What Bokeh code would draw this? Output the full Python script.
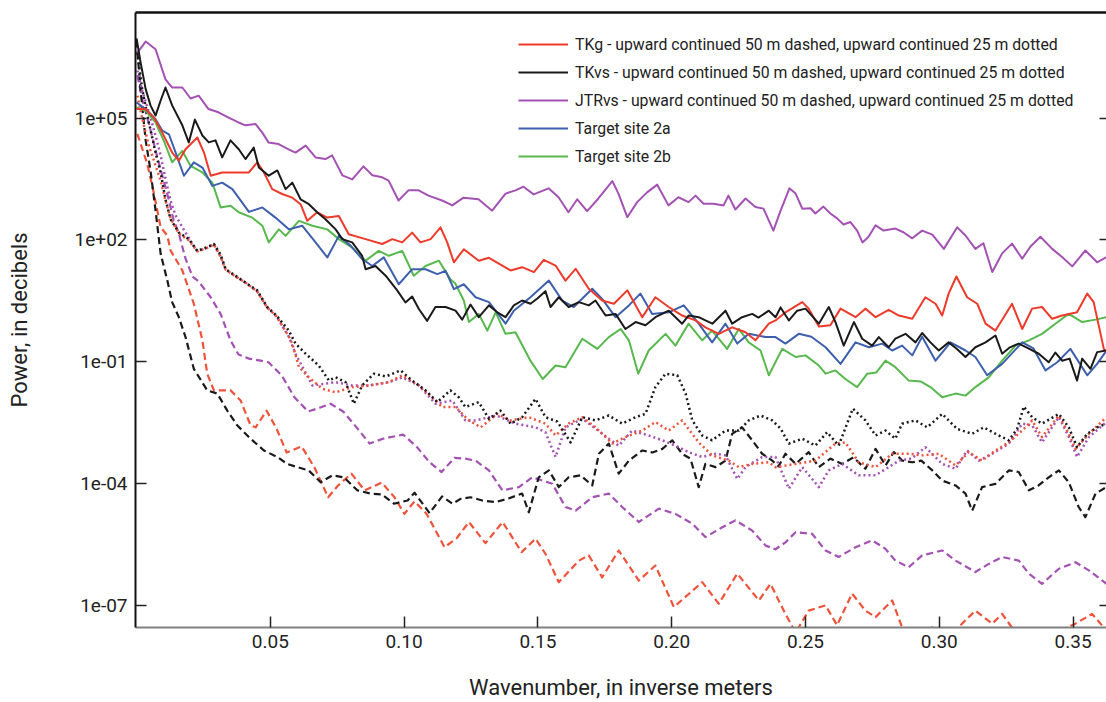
from bokeh.plotting import figure
from bokeh.models import (Range1d, FixedTicker, PrintfTickFormatter, LinearAxis,
                          LogAxis, Legend, LegendItem)
from bokeh.embed import file_html
from bokeh.resources import INLINE

# ---- data: (wavenumber in 1/m, log10 of power) ----
tkg_solid = [(0, 5.22), (0.0034, 5.22), (0.0065, 5.01), (0.0096, 4.64), (0.0133, 4.15), (0.0158, 3.95),
    (0.0183, 4.23), (0.0227, 4.52), (0.0252, 4.15), (0.0277, 3.58), (0.0320, 3.66), (0.0370, 3.66),
    (0.0420, 3.66), (0.0451, 3.91), (0.0476, 3.66), (0.0507, 3.25), (0.0544, 3.13), (0.0582, 3.04),
    (0.0613, 2.88), (0.0638, 2.47), (0.0675, 2.68), (0.0713, 2.55), (0.0756, 2.59), (0.0793, 2.14),
    (0.0856, 2.02), (0.0918, 1.90), (0.0956, 2.02), (0.0993, 1.94), (0.1030, 2.18), (0.1061, 1.94),
    (0.1099, 2.02), (0.1136, 2.31), (0.1161, 1.94), (0.1186, 1.45), (0.1223, 1.77), (0.1279, 1.49),
    (0.1317, 1.56), (0.1367, 1.37), (0.1398, 1.25), (0.1441, 1.33), (0.1485, 1.21), (0.1522, 1.51),
    (0.1566, 1.37), (0.1603, 1.00), (0.1641, 1.29), (0.1690, 0.80), (0.1740, 0.51), (0.1784, 0.43),
    (0.1834, 0.76), (0.1890, 0.10), (0.1939, 0.59), (0.1989, 0.35), (0.2039, 0.14), (0.2089, 0.02),
    (0.2126, -0.15), (0.2176, -0.31), (0.2226, -0.15), (0.2276, -0.27), (0.2313, -0.47), (0.2363, -0.06),
    (0.2388, 0.02), (0.2425, 0.22), (0.2488, 0.47), (0.2512, 0.31), (0.2550, -0.13), (0.2593, -0.10),
    (0.2631, 0.31), (0.2687, 0.10), (0.2724, 0.31), (0.2762, 0.10), (0.2811, 0.28), (0.2849, 0.14),
    (0.2899, 0.06), (0.2948, 0.59), (0.2986, 0.43), (0.3011, 0.14), (0.3035, 0.68), (0.3064, 1.10),
    (0.3104, 0.59), (0.3142, 0.43), (0.3173, -0.06), (0.3210, -0.23), (0.3241, 0.10), (0.3272, 0.43),
    (0.3310, -0.19), (0.3347, 0.31), (0.3384, 0.35), (0.3422, 0.06), (0.3459, 0.14), (0.3515, 0.22),
    (0.3553, 0.68), (0.3577, 0.47), (0.3615, -0.68), (0.3625, -0.76)]

tkvs_solid = [(0, 6.96), (0.0015, 6.37), (0.0034, 5.71), (0.0052, 5.31), (0.0071, 5.06), (0.0090, 5.43),
    (0.0108, 5.75), (0.0133, 5.31), (0.0171, 4.82), (0.0195, 4.40), (0.0218, 4.96), (0.0246, 4.57),
    (0.0270, 4.40), (0.0295, 4.45), (0.0320, 4.03), (0.0351, 4.45), (0.0382, 4.23), (0.0407, 3.99),
    (0.0438, 4.27), (0.0457, 3.78), (0.0494, 3.58), (0.0526, 3.71), (0.0557, 3.25), (0.0582, 3.41),
    (0.0613, 3.00), (0.0644, 2.88), (0.0675, 2.68), (0.0706, 2.51), (0.0744, 2.26), (0.0769, 2.02),
    (0.0806, 1.94), (0.0843, 1.61), (0.0856, 1.28), (0.0893, 1.36), (0.0931, 1.12), (0.0974, 0.76),
    (0.1005, 0.46), (0.1030, 0.61), (0.1055, 0.30), (0.1086, 0.01), (0.1117, 0.35), (0.1155, 0.35),
    (0.1192, 0.26), (0.1217, 0.04), (0.1248, 0.41), (0.1279, 0.10), (0.1317, 0.39), (0.1348, 0.22),
    (0.1379, 0.10), (0.1410, 0.39), (0.1441, 0.51), (0.1472, 0.43), (0.1498, 0.56), (0.1528, 0.74),
    (0.1547, 0.35), (0.1578, 0.59), (0.1615, 0.35), (0.1653, 0.47), (0.1690, 0.39), (0.1715, 0.51),
    (0.1753, 0.14), (0.1790, 0.18), (0.1827, -0.19), (0.1865, -0.02), (0.1902, -0.10), (0.1939, 0.10),
    (0.1989, 0.26), (0.2039, -0.06), (0.2063, 0.14), (0.2101, 0.10), (0.2126, 0.02), (0.2152, -0.06),
    (0.2201, 0.26), (0.2226, -0.06), (0.2263, 0.10), (0.2301, 0.18), (0.2324, 0.09), (0.2363, 0.26),
    (0.2388, 0.10), (0.2407, 0.34), (0.2438, 0.02), (0.2469, 0.26), (0.2500, 0.31), (0.2550, -0.06),
    (0.2587, 0.35), (0.2612, -0.02), (0.2643, -0.60), (0.2681, -0.02), (0.2712, -0.43), (0.2749, -0.60),
    (0.2774, -0.39), (0.2811, -0.64), (0.2836, -0.43), (0.2874, -0.31), (0.2911, -0.52), (0.2936, -0.29),
    (0.2967, -0.52), (0.2998, -0.72), (0.3035, -0.52), (0.3064, -0.67), (0.3098, -0.88), (0.3135, -0.64),
    (0.3173, -0.52), (0.3210, -0.35), (0.3235, -0.80), (0.3262, -0.65), (0.3297, -0.55), (0.3333, -0.67),
    (0.3372, -0.80), (0.3409, -1.01), (0.3434, -0.77), (0.3459, -0.97), (0.3487, -0.92), (0.3515, -1.46),
    (0.3534, -0.92), (0.3565, -1.17), (0.3590, -0.76), (0.3625, -0.72)]

jtrvs_solid = [(0.0003, 6.61), (0.0034, 6.88), (0.0071, 6.69), (0.0108, 5.95), (0.0133, 5.75), (0.0171, 5.75),
    (0.0202, 5.48), (0.0232, 5.55), (0.0269, 5.22), (0.0306, 5.14), (0.0344, 5.01), (0.0381, 4.89),
    (0.0407, 4.82), (0.0445, 4.85), (0.0470, 4.64), (0.0493, 4.40), (0.0531, 4.36), (0.0568, 4.23),
    (0.0594, 4.15), (0.0632, 4.32), (0.0669, 4.03), (0.0706, 3.99), (0.0731, 4.08), (0.0769, 3.59),
    (0.0806, 3.49), (0.0848, 3.81), (0.0881, 3.59), (0.0918, 3.54), (0.0942, 3.46), (0.0979, 2.97),
    (0.1016, 3.22), (0.1054, 3.22), (0.1091, 3.09), (0.1142, 2.97), (0.1180, 2.85), (0.1222, 3.04),
    (0.1278, 3.00), (0.1329, 2.72), (0.1379, 3.14), (0.1416, 3.22), (0.1446, 3.31), (0.1484, 3.12),
    (0.1540, 3.27), (0.1577, 3.05), (0.1614, 2.68), (0.1647, 3.00), (0.1684, 2.71), (0.1726, 3.02),
    (0.1778, 3.45), (0.1801, 3.14), (0.1834, 2.56), (0.1871, 2.93), (0.1908, 3.17), (0.1946, 3.36),
    (0.1988, 2.85), (0.2025, 3.05), (0.2063, 2.93), (0.2089, 3.09), (0.2119, 2.89), (0.2156, 2.89),
    (0.2194, 2.85), (0.2212, 3.09), (0.2238, 2.75), (0.2276, 3.02), (0.2313, 2.81), (0.2343, 2.77),
    (0.2380, 2.23), (0.2407, 2.72), (0.2440, 3.27), (0.2463, 3.14), (0.2488, 2.77), (0.2519, 2.78),
    (0.2537, 2.65), (0.2567, 2.82), (0.2593, 2.65), (0.2618, 2.53), (0.2642, 2.38), (0.2668, 2.44),
    (0.2693, 2.23), (0.2713, 1.94), (0.2735, 2.07), (0.2762, 2.36), (0.2792, 2.23), (0.2836, 2.28),
    (0.2866, 2.19), (0.2899, 2.04), (0.2936, 2.23), (0.2974, 2.13), (0.3017, 1.78), (0.3067, 2.31),
    (0.3098, 2.11), (0.3135, 1.78), (0.3165, 1.92), (0.3198, 1.21), (0.3235, 1.67), (0.3272, 1.91),
    (0.3310, 1.54), (0.3341, 1.84), (0.3378, 2.08), (0.3422, 1.78), (0.3459, 1.58), (0.3497, 1.35),
    (0.3546, 1.74), (0.3590, 1.45), (0.3625, 1.58)]

site2a = [(0, 5.38), (0.0034, 5.22), (0.0071, 4.97), (0.0096, 4.69), (0.0121, 4.60), (0.0146, 4.15),
    (0.0177, 3.58), (0.0214, 3.91), (0.0246, 3.78), (0.0283, 3.33), (0.0320, 3.41), (0.0358, 3.25),
    (0.0420, 2.69), (0.0470, 2.80), (0.0519, 2.55), (0.0569, 2.26), (0.0619, 2.35), (0.0669, 1.94),
    (0.0713, 1.57), (0.0756, 2.10), (0.0800, 1.86), (0.0843, 1.53), (0.0881, 1.36), (0.0924, 1.57),
    (0.0980, 0.91), (0.1030, 1.28), (0.1080, 1.28), (0.1124, 1.16), (0.1155, 1.24), (0.1186, 0.79),
    (0.1223, 0.91), (0.1267, 0.59), (0.1317, 0.47), (0.1379, -0.06), (0.1410, 0.26), (0.1472, 0.59),
    (0.1541, 1.00), (0.1591, 0.51), (0.1634, 0.35), (0.1703, 0.80), (0.1740, 0.55), (0.1790, 0.10),
    (0.1840, 0.39), (0.1883, 0.68), (0.1927, 0.18), (0.1989, 0.22), (0.2045, 0.39), (0.2101, -0.06),
    (0.2151, -0.52), (0.2201, -0.06), (0.2245, -0.55), (0.2288, -0.31), (0.2351, -0.39), (0.2388, -0.39),
    (0.2425, -0.55), (0.2475, -0.31), (0.2522, -0.38), (0.2575, -0.64), (0.2631, -1.05), (0.2687, -0.52),
    (0.2737, -0.64), (0.2787, -0.55), (0.2824, -0.72), (0.2861, -0.60), (0.2899, -0.84), (0.2936, -0.38),
    (0.2986, -0.97), (0.3042, -0.52), (0.3098, -0.72), (0.3135, -0.88), (0.3179, -1.33), (0.3235, -1.05),
    (0.3310, -0.52), (0.3352, -0.67), (0.3397, -1.21), (0.3441, -1.01), (0.3490, -0.68), (0.3553, -1.33),
    (0.3590, -1.05), (0.3625, -0.72)]

site2b = [(0, 5.26), (0.0034, 5.18), (0.0071, 4.89), (0.0102, 4.44), (0.0133, 3.91), (0.0171, 4.19),
    (0.0202, 3.82), (0.0246, 3.66), (0.0283, 3.41), (0.0314, 2.80), (0.0351, 2.84), (0.0382, 2.68),
    (0.0432, 2.55), (0.0470, 2.35), (0.0494, 1.94), (0.0532, 2.26), (0.0557, 2.10), (0.0607, 2.47),
    (0.0657, 2.35), (0.0713, 2.26), (0.0756, 2.02), (0.0806, 1.81), (0.0856, 1.49), (0.0905, 1.73),
    (0.0943, 1.61), (0.0993, 1.73), (0.1036, 1.12), (0.1080, 1.36), (0.1130, 1.49), (0.1173, 1.03),
    (0.1192, 0.92), (0.1223, 0.51), (0.1242, -0.02), (0.1279, 0.18), (0.1311, -0.23), (0.1342, 0.22),
    (0.1379, -0.31), (0.1416, -0.27), (0.1472, -0.97), (0.1518, -1.42), (0.1566, -1.09), (0.1603, -1.13),
    (0.1666, -0.43), (0.1722, -0.68), (0.1765, -0.39), (0.1809, -0.19), (0.1840, -0.47), (0.1875, -1.29),
    (0.1914, -0.72), (0.1977, -0.31), (0.2014, -0.60), (0.2063, -0.06), (0.2114, -0.47), (0.2151, -0.23),
    (0.2207, -0.68), (0.2251, -0.19), (0.2288, -0.52), (0.2332, -0.72), (0.2363, -1.33), (0.2413, -0.68),
    (0.2463, -0.88), (0.2500, -0.84), (0.2550, -1.09), (0.2575, -1.29), (0.2612, -1.21), (0.2649, -1.42),
    (0.2693, -1.62), (0.2731, -1.29), (0.2765, -1.26), (0.2799, -0.97), (0.2836, -1.13), (0.2886, -1.46),
    (0.2930, -1.48), (0.2967, -1.62), (0.3011, -1.87), (0.3061, -1.78), (0.3098, -1.83), (0.3135, -1.62),
    (0.3185, -1.38), (0.3235, -0.97), (0.3285, -0.60), (0.3335, -0.47), (0.3384, -0.31), (0.3434, -0.06),
    (0.3484, 0.18), (0.3534, -0.02), (0.3584, 0.04), (0.3625, 0.10)]

tkvs_25m = [(0.0003, 6.61), (0.0021, 5.71), (0.0046, 4.89), (0.0071, 4.15), (0.0090, 3.66), (0.0108, 3.00),
    (0.0127, 2.51), (0.0158, 2.18), (0.0195, 2.02), (0.0227, 1.73), (0.0258, 1.81), (0.0289, 1.90),
    (0.0314, 1.64), (0.0333, 1.28), (0.0370, 1.12), (0.0407, 0.95), (0.0451, 0.76), (0.0488, 0.35),
    (0.0523, 0.14), (0.0569, -0.23), (0.0594, -0.55), (0.0632, -0.80), (0.0681, -1.09), (0.0719, -1.46),
    (0.0744, -1.38), (0.0781, -1.50), (0.0812, -2.03), (0.0843, -1.58), (0.0887, -1.29), (0.0931, -1.36),
    (0.0987, -1.21), (0.1030, -1.46), (0.1080, -1.70), (0.1124, -1.99), (0.1173, -1.70), (0.1204, -1.87),
    (0.1229, -2.11), (0.1279, -1.99), (0.1317, -2.40), (0.1360, -2.20), (0.1398, -2.52), (0.1441, -2.36),
    (0.1491, -1.91), (0.1528, -2.36), (0.1573, -2.47), (0.1622, -2.98), (0.1666, -2.36), (0.1715, -2.44),
    (0.1765, -2.32), (0.1815, -2.52), (0.1865, -2.36), (0.1902, -2.28), (0.1939, -1.62), (0.1977, -1.29),
    (0.2021, -1.33), (0.2052, -1.78), (0.2077, -2.44), (0.2114, -2.81), (0.2151, -2.93), (0.2201, -2.69),
    (0.2251, -2.69), (0.2288, -2.44), (0.2332, -2.32), (0.2376, -2.44), (0.2407, -2.64), (0.2438, -3.01),
    (0.2488, -2.89), (0.2537, -3.06), (0.2581, -2.73), (0.2624, -3.06), (0.2677, -2.15), (0.2724, -2.44),
    (0.2762, -2.81), (0.2799, -2.69), (0.2836, -2.89), (0.2861, -2.52), (0.2911, -2.44), (0.2955, -2.61),
    (0.3011, -2.28), (0.3067, -2.65), (0.3123, -2.77), (0.3166, -2.61), (0.3222, -2.81), (0.3260, -2.93),
    (0.3291, -2.65), (0.3316, -2.10), (0.3347, -2.36), (0.3384, -2.52), (0.3447, -2.28), (0.3484, -2.61),
    (0.3515, -3.10), (0.3553, -2.77), (0.3590, -2.61), (0.3625, -2.52)]

tkg_25m = [(0.0003, 5.55), (0.0021, 4.99), (0.0046, 4.32), (0.0071, 3.83), (0.0090, 3.46), (0.0108, 2.97),
    (0.0127, 2.53), (0.0158, 2.16), (0.0195, 1.99), (0.0227, 1.72), (0.0258, 1.79), (0.0289, 1.89),
    (0.0314, 1.59), (0.0333, 1.27), (0.0370, 1.10), (0.0407, 0.95), (0.0451, 0.73), (0.0488, 0.34),
    (0.0523, 0.12), (0.0569, -0.38), (0.0582, -0.55), (0.0607, -1.13), (0.0644, -1.38), (0.0694, -1.66),
    (0.0744, -1.75), (0.0806, -1.62), (0.0868, -1.58), (0.0943, -1.50), (0.0993, -1.33), (0.1055, -1.58),
    (0.1105, -1.87), (0.1142, -2.11), (0.1192, -2.11), (0.1242, -2.44), (0.1286, -2.61), (0.1348, -2.28),
    (0.1398, -2.44), (0.1466, -2.36), (0.1528, -2.52), (0.1566, -2.81), (0.1615, -2.52), (0.1666, -2.36),
    (0.1715, -2.61), (0.1778, -3.01), (0.1827, -2.85), (0.1890, -2.69), (0.1939, -2.48), (0.1989, -2.69),
    (0.2039, -2.44), (0.2101, -2.98), (0.2151, -3.30), (0.2213, -3.43), (0.2251, -3.59), (0.2301, -3.51),
    (0.2363, -3.47), (0.2388, -3.59), (0.2463, -3.51), (0.2537, -3.43), (0.2612, -3.01), (0.2649, -2.98),
    (0.2699, -3.47), (0.2762, -3.59), (0.2824, -3.26), (0.2886, -3.26), (0.2936, -3.30), (0.2998, -3.26),
    (0.3061, -3.55), (0.3110, -3.22), (0.3160, -3.43), (0.3210, -3.18), (0.3260, -2.98), (0.3310, -2.69),
    (0.3347, -2.44), (0.3384, -2.85), (0.3447, -2.32), (0.3484, -2.77), (0.3509, -3.14), (0.3559, -2.77),
    (0.3625, -2.36)]

jtrvs_25m = [(0.0003, 6.17), (0.0021, 5.68), (0.0046, 5.14), (0.0071, 4.57), (0.0090, 4.08), (0.0108, 3.51),
    (0.0127, 2.97), (0.0146, 2.60), (0.0183, 2.18), (0.0227, 1.72), (0.0258, 1.79), (0.0289, 1.89),
    (0.0314, 1.59), (0.0333, 1.27), (0.0370, 1.10), (0.0407, 0.95), (0.0451, 0.73), (0.0488, 0.34),
    (0.0523, 0.12), (0.0569, -0.38), (0.0594, -0.80), (0.0657, -1.58), (0.0744, -1.50), (0.0806, -1.58),
    (0.0868, -1.58), (0.0943, -1.50), (0.0993, -1.38), (0.1055, -1.58), (0.1117, -2.03), (0.1180, -1.95),
    (0.1229, -2.44), (0.1267, -2.44), (0.1345, -2.32), (0.1416, -2.52), (0.1491, -2.61), (0.1528, -2.73),
    (0.1566, -3.34), (0.1603, -2.61), (0.1666, -2.40), (0.1715, -2.64), (0.1765, -2.89), (0.1802, -3.06),
    (0.1852, -2.69), (0.1914, -2.81), (0.1965, -2.93), (0.2014, -3.06), (0.2063, -3.22), (0.2114, -3.34),
    (0.2164, -3.26), (0.2201, -3.30), (0.2245, -3.88), (0.2276, -3.59), (0.2338, -3.34), (0.2388, -3.34),
    (0.2438, -4.12), (0.2488, -3.59), (0.2550, -4.08), (0.2587, -3.67), (0.2637, -3.51), (0.2699, -3.79),
    (0.2762, -3.79), (0.2811, -3.59), (0.2849, -3.43), (0.2896, -3.38), (0.2948, -3.10), (0.3011, -3.51),
    (0.3061, -3.63), (0.3104, -3.18), (0.3148, -3.43), (0.3198, -3.26), (0.3260, -3.01), (0.3310, -2.52),
    (0.3347, -2.56), (0.3384, -2.98), (0.3447, -2.36), (0.3484, -2.84), (0.3515, -3.34), (0.3559, -2.85),
    (0.3625, -2.48)]

tkvs_50m = [(0, 6.91), (0.0015, 5.68), (0.0034, 4.45), (0.0052, 3.71), (0.0071, 2.72), (0.0090, 1.66),
    (0.0115, 1.00), (0.0133, 0.47), (0.0158, 0.10), (0.0183, -0.39), (0.0214, -1.17), (0.0264, -1.70),
    (0.0302, -1.78), (0.0339, -2.20), (0.0376, -2.56), (0.0426, -2.89), (0.0476, -3.18), (0.0526, -3.34),
    (0.0563, -3.51), (0.0601, -3.59), (0.0643, -3.67), (0.0688, -3.96), (0.0732, -3.79), (0.0775, -3.84),
    (0.0825, -4.16), (0.0874, -4.24), (0.0916, -4.26), (0.0962, -4.49), (0.1013, -4.41), (0.1039, -4.22),
    (0.1095, -4.72), (0.1142, -4.31), (0.1181, -4.49), (0.1211, -4.37), (0.1248, -4.33), (0.1292, -4.41),
    (0.1342, -4.45), (0.1390, -4.36), (0.1441, -4.24), (0.1466, -4.70), (0.1503, -3.84), (0.1541, -3.67),
    (0.1578, -4.08), (0.1615, -3.84), (0.1659, -3.79), (0.1703, -4.04), (0.1728, -3.26), (0.1765, -3.01),
    (0.1802, -3.75), (0.1840, -3.43), (0.1890, -3.18), (0.1928, -3.23), (0.1965, -3.14), (0.2002, -2.93),
    (0.2039, -3.26), (0.2070, -3.38), (0.2101, -4.08), (0.2126, -3.51), (0.2164, -3.59), (0.2201, -3.43),
    (0.2226, -2.77), (0.2263, -2.61), (0.2301, -2.93), (0.2338, -3.26), (0.2376, -3.43), (0.2399, -3.57),
    (0.2425, -3.26), (0.2463, -3.51), (0.2512, -3.22), (0.2550, -3.59), (0.2593, -3.38), (0.2637, -3.51),
    (0.2679, -3.35), (0.2724, -3.63), (0.2762, -3.14), (0.2799, -3.55), (0.2830, -3.22), (0.2862, -3.43),
    (0.2899, -3.47), (0.2933, -3.43), (0.2974, -3.67), (0.3011, -3.92), (0.3061, -4.04), (0.3098, -4.24),
    (0.3123, -4.66), (0.3160, -4.08), (0.3210, -4.00), (0.3260, -3.67), (0.3297, -3.71), (0.3335, -4.16),
    (0.3371, -4.04), (0.3409, -3.84), (0.3447, -3.67), (0.3484, -3.96), (0.3521, -4.57), (0.3546, -4.82),
    (0.3584, -4.24), (0.3625, -4.08)]

tkg_50m = [(0.0003, 4.61), (0.0040, 3.87), (0.0065, 3.14), (0.0090, 2.31), (0.0115, 2.11), (0.0127, 1.74),
    (0.0171, 1.25), (0.0214, 0.43), (0.0246, -0.47), (0.0264, -1.29), (0.0289, -1.70), (0.0351, -1.70),
    (0.0389, -1.95), (0.0426, -2.56), (0.0445, -2.61), (0.0486, -2.20), (0.0523, -2.64), (0.0561, -3.23),
    (0.0617, -3.08), (0.0665, -3.60), (0.0716, -4.33), (0.0753, -4.04), (0.0803, -3.75), (0.0852, -4.16),
    (0.0916, -3.97), (0.0964, -4.33), (0.1001, -4.74), (0.1039, -4.43), (0.1084, -4.74), (0.1151, -5.56),
    (0.1196, -5.34), (0.1242, -4.94), (0.1304, -5.46), (0.1368, -4.94), (0.1439, -5.68), (0.1491, -5.35),
    (0.1528, -5.72), (0.1578, -6.42), (0.1653, -5.89), (0.1690, -5.76), (0.1740, -6.30), (0.1802, -5.64),
    (0.1877, -6.38), (0.1939, -6.01), (0.2008, -7.03), (0.2114, -6.42), (0.2176, -6.95), (0.2245, -6.21),
    (0.2326, -6.87), (0.2369, -6.46), (0.2425, -7.20), (0.2463, -7.66), (0.2512, -7.12), (0.2575, -6.99),
    (0.2618, -7.48), (0.2674, -6.70), (0.2724, -7.12), (0.2762, -7.28), (0.2824, -6.87), (0.2861, -7.53),
    (0.2922, -7.85), (0.2974, -7.53), (0.3023, -7.85), (0.3079, -7.48), (0.3135, -7.12), (0.3198, -7.44),
    (0.3235, -7.20), (0.3285, -7.66), (0.3359, -7.98), (0.3434, -7.66), (0.3509, -7.44), (0.3571, -7.20),
    (0.3625, -7.61)]

jtrvs_50m = [(0.0003, 6.05), (0.0022, 5.43), (0.0045, 4.89), (0.0071, 4.20), (0.0093, 3.66), (0.0120, 3.00),
    (0.0138, 2.50), (0.0157, 2.18), (0.0183, 1.54), (0.0209, 1.10), (0.0232, 0.98), (0.0277, 0.59),
    (0.0314, 0.18), (0.0351, -0.47), (0.0381, -0.82), (0.0420, -0.92), (0.0463, -0.97), (0.0493, -1.01),
    (0.0542, -1.33), (0.0590, -1.87), (0.0641, -2.22), (0.0684, -2.13), (0.0725, -2.03), (0.0772, -2.22),
    (0.0822, -2.61), (0.0871, -3.01), (0.0921, -2.89), (0.0996, -2.79), (0.1046, -3.08), (0.1095, -3.47),
    (0.1140, -3.71), (0.1188, -3.36), (0.1229, -3.38), (0.1267, -3.43), (0.1317, -3.67), (0.1367, -4.16),
    (0.1429, -4.08), (0.1479, -3.84), (0.1554, -4.00), (0.1603, -4.57), (0.1641, -4.66), (0.1703, -4.33),
    (0.1765, -4.24), (0.1815, -4.57), (0.1877, -4.94), (0.1952, -4.61), (0.2014, -4.74), (0.2077, -4.98),
    (0.2126, -5.31), (0.2189, -5.07), (0.2238, -4.90), (0.2301, -5.15), (0.2351, -5.52), (0.2388, -5.61),
    (0.2425, -5.44), (0.2463, -5.19), (0.2525, -5.23), (0.2575, -5.64), (0.2624, -5.80), (0.2687, -5.56),
    (0.2749, -5.39), (0.2799, -5.60), (0.2836, -5.89), (0.2886, -6.05), (0.2936, -5.76), (0.3011, -5.64),
    (0.3061, -5.89), (0.3135, -6.17), (0.3185, -5.97), (0.3235, -5.80), (0.3297, -5.89), (0.3335, -6.21),
    (0.3384, -6.46), (0.3447, -6.09), (0.3509, -5.93), (0.3559, -6.13), (0.3625, -6.46)]

legend_labels = [
    "TKg - upward continued 50 m dashed, upward continued 25 m dotted",
    "TKvs - upward continued 50 m dashed, upward continued 25 m dotted",
    "JTRvs - upward continued 50 m dashed, upward continued 25 m dotted",
    "Target site 2a",
    "Target site 2b",
]
x_ticks = [0.05, 0.10, 0.15, 0.20, 0.25, 0.30, 0.35]
y_ticks = [1e-7, 1e-4, 1e-1, 1e2, 1e5]
y_tick_labels = ["1e-07", "1e-04", "1e-01", "1e+02", "1e+05"]

FONT = "Roboto"
RED, RED2 = "#ee3a2a", "#f0523a"
BLACK = "#1a1a1a"
PURPLE = "#a352b3"
BLUE = "#3d5fae"
GREEN = "#57b84d"

p = figure(width=1106, height=702, y_axis_type="log",
           x_range=Range1d(-0.0004, 0.3625), y_range=Range1d(2.92e-8, 3.94e7),
           output_backend="svg", toolbar_location=None,
           min_border_left=135, min_border_right=0, min_border_top=12, min_border_bottom=75)
p.grid.visible = False
p.outline_line_color = None
p.background_fill_color = "white"


def xs(series):
    return [a for a, b in series]


def ys(series):
    return [10 ** b for a, b in series]


def draw(series, color, dash="solid", width=2.0):
    return p.line(xs(series), ys(series), line_color=color, line_width=width,
                  line_dash=dash, line_join="round", line_cap="butt")

# dashed (50 m) and dotted (25 m) first, solids on top
draw(jtrvs_50m, PURPLE, "7 4", 2.2)
draw(tkg_50m, RED2, "7 4", 2.2)
draw(tkvs_50m, BLACK, "7 4", 2.2)
draw(jtrvs_25m, PURPLE, "2 3", 2.5)
draw(tkg_25m, RED2, "2 3", 2.5)
draw(tkvs_25m, BLACK, "2 3", 2.5)
r_green = draw(site2b, GREEN)
r_blue = draw(site2a, BLUE)
r_purple = draw(jtrvs_solid, PURPLE)
r_red = draw(tkg_solid, RED)
r_black = draw(tkvs_solid, BLACK)

# axes
xa = p.xaxis[0]
xa.ticker = FixedTicker(ticks=x_ticks)
xa.formatter = PrintfTickFormatter(format="%.2f")
xa.minor_tick_line_color = None
xa.major_tick_in = 11
xa.major_tick_out = 0
xa.major_tick_line_color = "#222222"
xa.major_tick_line_width = 1.5
xa.axis_line_color = "#808080"
xa.axis_line_width = 2
xa.major_label_text_font = FONT
xa.major_label_text_font_size = "19px"
xa.major_label_text_color = "#222222"
xa.major_label_standoff = 7
xa.axis_label = "Wavenumber, in inverse meters"
xa.axis_label_text_font = FONT
xa.axis_label_text_font_size = "22px"
xa.axis_label_text_font_style = "normal"
xa.axis_label_text_color = "#222222"
xa.axis_label_standoff = 24

ya = p.yaxis[0]
ya.ticker = FixedTicker(ticks=y_ticks)
ya.major_label_overrides = {v: s for v, s in zip(y_ticks, y_tick_labels)}
ya.minor_tick_line_color = None
ya.major_tick_in = 11
ya.major_tick_out = 0
ya.major_tick_line_color = "#222222"
ya.major_tick_line_width = 1.5
ya.axis_line_color = "#111111"
ya.axis_line_width = 2
ya.major_label_text_font = FONT
ya.major_label_text_font_size = "19px"
ya.major_label_text_color = "#222222"
ya.major_label_standoff = 8
ya.axis_label = "Power, in decibels"
ya.axis_label_text_font = FONT
ya.axis_label_text_font_size = "22px"
ya.axis_label_text_font_style = "normal"
ya.axis_label_text_color = "#222222"
ya.axis_label_standoff = 40

top = LinearAxis(ticker=FixedTicker(ticks=[]), axis_line_color="#111111", axis_line_width=2.5,
                 major_label_text_font_size="0px", minor_tick_line_color=None,
                 major_tick_line_color=None)
p.add_layout(top, "above")

right = LogAxis(ticker=FixedTicker(ticks=y_ticks), axis_line_color=None,
                major_label_text_font_size="0px", major_label_text_color=None,
                minor_tick_line_color=None, major_tick_in=7, major_tick_out=0,
                major_tick_line_color="#222222", major_tick_line_width=1.5)
p.add_layout(right, "right")

legend = Legend(items=[LegendItem(label=legend_labels[0], renderers=[r_red]),
                       LegendItem(label=legend_labels[1], renderers=[r_black]),
                       LegendItem(label=legend_labels[2], renderers=[r_purple]),
                       LegendItem(label=legend_labels[3], renderers=[r_blue]),
                       LegendItem(label=legend_labels[4], renderers=[r_green])],
                location=(383, 461), border_line_color=None, background_fill_alpha=0,
                glyph_width=50, glyph_height=20, label_height=20, spacing=8, padding=0, margin=0,
                label_standoff=7, label_text_font=FONT, label_text_font_size="15.8px",
                label_text_color="#222222")
p.add_layout(legend)

open("out.html", "w").write(file_html(p, INLINE))
